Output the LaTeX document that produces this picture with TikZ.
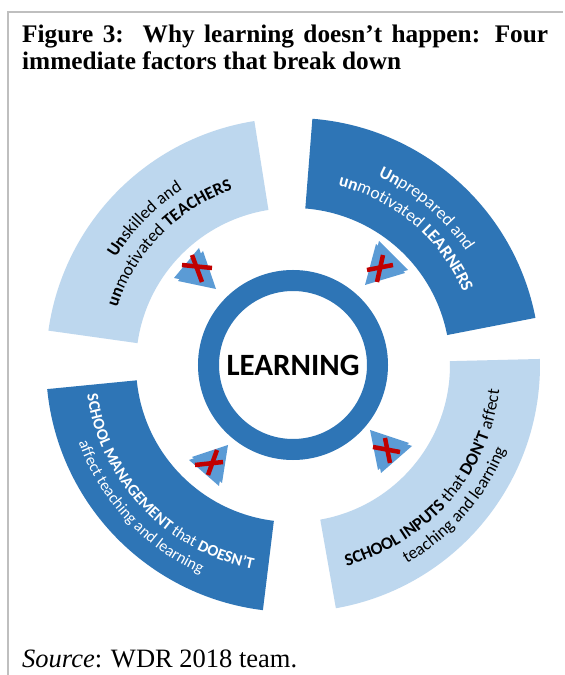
\documentclass[tikz,border=0pt]{standalone}
\usepackage{fontspec}
\usetikzlibrary{calc,decorations.text}
\setmainfont{Liberation Serif}
\newfontfamily\calib{Carlito}
\newcommand\segB{\calib\fontsize{17.5}{21}\selectfont\bfseries}
\newcommand\segM{\calib\fontsize{17.5}{21}\selectfont\mdseries}
\newcommand\segBs{\calib\fontsize{16.2}{20}\selectfont\bfseries}
\newcommand\segMs{\calib\fontsize{16.2}{20}\selectfont\mdseries}
\definecolor{dkblue}{HTML}{2E75B6}
\definecolor{ltblue}{HTML}{BDD7EE}
\definecolor{mkblue}{HTML}{5B9BD5}
\definecolor{xred}{HTML}{C00000}
\definecolor{frame}{HTML}{BFBFBF}
\tikzset{
  seglight/.style={fill=ltblue},
  segdark/.style={fill=dkblue},
  marker/.style={fill=mkblue},
  xstroke/.style={draw=xred, line width=4.5pt},
  arctext/.style={decorate, decoration={text along path, text align=center, text={#1}}},
  arctextw/.style={decorate, decoration={text along path, text align=center, text color=white, text={#1}}}
}
\begin{document}
\begin{tikzpicture}[x=1pt,y=1pt]
\useasboundingbox[fill=white] (0,0) rectangle (565,675);
\coordinate (C) at (293,310);
% frame
\draw[frame, line width=2pt] (8,0) -- (8,663) -- (563,663);
% title
\node (t1) [anchor=base west, inner sep=0] at (22,632) {\bfseries\fontsize{25.3}{29}\selectfont\makebox[526pt][s]{Figure 3:\ \ Why learning doesn’t happen: Four}};
\node (t2) [anchor=base west, inner sep=0] at (22,605) {\bfseries\fontsize{25.3}{29}\selectfont immediate factors that break down};
\node (src) [anchor=base west, inner sep=0] at (22,7) {\fontsize{26.5}{30}\selectfont\textit{Source}: WDR 2018 team.};
% segments
\fill[seglight] ($(C)+(99:157)$) arc[start angle=99,end angle=172,radius=157] -- ($(C)+(172:247)$) arc[start angle=172,end angle=99,radius=247] -- cycle;
\fill[segdark] ($(C)+(11:157)$) arc[start angle=11,end angle=85.5,radius=157] -- ($(C)+(85.5:247)$) arc[start angle=85.5,end angle=11,radius=247] -- cycle;
\fill[seglight] ($(C)+(-80:157)$) arc[start angle=-80,end angle=1.4,radius=157] -- ($(C)+(1.4:247)$) arc[start angle=1.4,end angle=-80,radius=247] -- cycle;
\fill[segdark] ($(C)+(185.6:157)$) arc[start angle=185.6,end angle=263,radius=157] -- ($(C)+(263:247)$) arc[start angle=263,end angle=185.6,radius=247] -- cycle;
% ring
\draw[dkblue, line width=21pt] (C) circle[radius=84.5];
\node (learn) at (C) {\calib\bfseries\fontsize{31}{36}\selectfont LEARNING};
% segment texts
\path[arctext={|\segB|Un|\segM|skilled and}] ($(C)+(180:207)$) arc[start angle=180,end angle=91,radius=207];
\path[arctext={|\segB|un|\segM|motivated |\segB|TEACHERS}] ($(C)+(180:185)$) arc[start angle=180,end angle=91,radius=185];
\path[arctextw={|\segB|Un|\segM|prepared and}] ($(C)+(95:207)$) arc[start angle=95,end angle=4,radius=207];
\path[arctextw={|\segB|un|\segM|motivated |\segB|LEARNERS}] ($(C)+(95:185)$) arc[start angle=95,end angle=4,radius=185];
\path[arctext={|\segB|SCHOOL INPUTS|\segM| that |\segB|DON’T|\segM| affect}] ($(C)+(-90:208)$) arc[start angle=-90,end angle=8,radius=208];
\path[arctext={|\segM|teaching and learning}] ($(C)+(-90:229)$) arc[start angle=-90,end angle=8,radius=229];
\path[arctextw={|\segBs|SCHOOL MANAGEMENT|\segMs| that |\segBs|DOESN’T}] ($(C)+(178:208)$) arc[start angle=178,end angle=269,radius=208];
\path[arctextw={|\segMs|affect teaching and learning}] ($(C)+(178:228)$) arc[start angle=178,end angle=268,radius=228];
% markers
\fill[marker] (203,424) -- (178,394) -- (216,386) -- cycle;
\fill[marker,shift={(-4,3)}] (203,424) -- (178,394) -- (216,386) -- cycle;
\draw[xstroke] (182,410) -- (212,407);
\draw[xstroke] (192,420) -- (202,393);
\fill[marker] (376,431) -- (405,402) -- (365,390) -- cycle;
\fill[marker,shift={(3,3)}] (376,431) -- (405,402) -- (365,390) -- cycle;
\draw[xstroke] (367,405) -- (393,410);
\draw[xstroke] (383,420) -- (377,393);
\fill[marker] (192,218) -- (228,230) -- (222,192) -- cycle;
\fill[marker,shift={(-3,-3)}] (192,218) -- (228,230) -- (222,192) -- cycle;
\draw[xstroke] (195,210) -- (223,213);
\draw[xstroke] (217,225) -- (208,200);
\fill[marker] (370,245) -- (409,232) -- (378,205) -- cycle;
\fill[marker,shift={(3,-3)}] (370,245) -- (409,232) -- (378,205) -- cycle;
\draw[xstroke] (373,228) -- (400,223);
\draw[xstroke] (385,237) -- (390,212);
\end{tikzpicture}
\end{document}
